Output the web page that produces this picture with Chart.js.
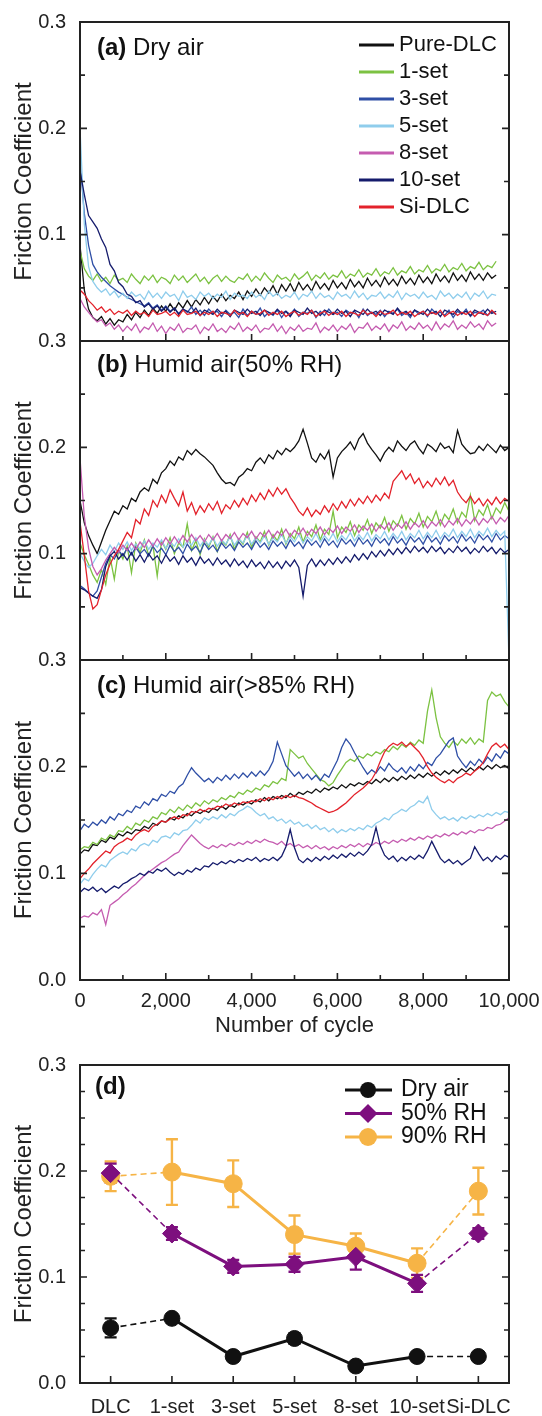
<!DOCTYPE html>
<html>
<head>
<meta charset="utf-8">
<script src="https://cdn.jsdelivr.net/npm/chart.js@4.4.1/dist/chart.umd.min.js"></script>
<style>
  body { margin: 0; background: #fff; }
  #wrap { position: relative; width: 542px; height: 1416px; overflow: hidden; background: #fff; }
  canvas { position: absolute; left: 0; }
</style>
</head>
<body>
<div id="wrap">
  <canvas id="ca" width="542" height="360" style="top:0px"></canvas>
  <canvas id="cb" width="542" height="360" style="top:322px"></canvas>
  <canvas id="cc" width="542" height="400" style="top:642px"></canvas>
  <canvas id="cd" width="542" height="376" style="top:1040px"></canvas>
</div>
<script>
// ---- data ----
const cycles = [0,100,200,300,400,500,600,700,800,900,1000,1100,1200,1300,1400,1500,1600,1700,1800,1900,
  2000,2100,2200,2300,2400,2500,2600,2700,2800,2900,3000,3100,3200,3300,3400,3500,3600,3700,3800,3900,
  4000,4100,4200,4300,4400,4500,4600,4700,4800,4900,5000,5100,5200,5300,5400,5500,5600,5700,5800,5900,
  6000,6100,6200,6300,6400,6500,6600,6700,6800,6900,7000,7100,7200,7300,7400,7500,7600,7700,7800,7900,
  8000,8100,8200,8300,8400,8500,8600,8700,8800,8900,9000,9100,9200,9300,9400,9500,9600,9700,9800,9900,10000];

const traceNames = ['Pure-DLC', '1-set', '3-set', '5-set', '8-set', '10-set', 'Si-DLC'];

// (a) dry air
const dryPure = [.090,.048,.030,.022,.019,.023,.016,.021,.015,.020,.018,.025,.020,.027,.022,.029,.024,.031,.026,.033,
  .028,.035,.029,.036,.031,.038,.032,.039,.034,.041,.035,.042,.037,.044,.038,.043,.040,.046,.039,.047,
  .042,.049,.043,.050,.045,.052,.044,.053,.047,.054,.046,.055,.048,.053,.047,.056,.049,.054,.048,.057,
  .050,.055,.049,.058,.051,.056,.050,.059,.052,.057,.051,.060,.053,.058,.052,.061,.054,.059,.053,.062,
  .055,.060,.054,.063,.056,.061,.055,.064,.057,.062,.056,.065,.058,.063,.057,.064,.059,.062];
const dry1 = [.085,.068,.061,.057,.063,.056,.060,.054,.062,.057,.059,.055,.063,.058,.054,.061,.057,.062,.055,.060,
  .058,.054,.062,.057,.061,.055,.059,.063,.056,.060,.054,.059,.062,.056,.061,.057,.055,.060,.058,.063,
  .056,.061,.057,.064,.059,.055,.062,.058,.060,.056,.063,.058,.061,.065,.057,.062,.059,.064,.058,.062,
  .060,.066,.059,.063,.061,.067,.060,.064,.062,.068,.061,.065,.063,.069,.062,.066,.064,.070,.063,.067,
  .065,.071,.064,.068,.066,.072,.065,.069,.067,.073,.066,.070,.068,.074,.067,.071,.069,.075];
const dry3 = [.170,.120,.090,.072,.065,.060,.056,.052,.049,.046,.044,.041,.039,.037,.035,.033,.036,.031,.034,.029,
  .033,.028,.031,.026,.030,.027,.032,.025,.029,.024,.030,.026,.028,.023,.029,.025,.027,.022,.030,.024,
  .028,.025,.031,.023,.027,.024,.029,.022,.028,.025,.030,.023,.027,.026,.029,.022,.028,.024,.030,.025,
  .027,.023,.029,.026,.028,.022,.030,.024,.027,.025,.029,.023,.028,.026,.030,.024,.027,.022,.029,.025,
  .028,.023,.030,.026,.027,.024,.029,.022,.028,.025,.030,.023,.027,.026,.029,.024,.028,.025];
const dry5 = [.200,.110,.070,.056,.050,.046,.049,.043,.047,.041,.045,.040,.046,.042,.044,.039,.047,.041,.045,.040,
  .046,.042,.044,.038,.047,.041,.043,.039,.046,.042,.045,.040,.044,.041,.047,.039,.045,.042,.043,.040,
  .046,.041,.044,.039,.047,.042,.045,.040,.043,.041,.046,.039,.044,.042,.047,.040,.045,.041,.043,.039,
  .046,.042,.044,.040,.047,.041,.045,.039,.043,.042,.046,.040,.044,.041,.047,.039,.045,.042,.044,.040,
  .046,.041,.043,.039,.047,.042,.045,.040,.044,.041,.046,.039,.045,.042,.047,.040,.044,.043];
const dry8 = [.040,.032,.027,.022,.018,.020,.014,.017,.011,.015,.009,.014,.010,.016,.008,.013,.011,.017,.009,.014,
  .007,.013,.010,.016,.008,.012,.011,.015,.007,.013,.010,.016,.009,.012,.008,.014,.011,.017,.009,.013,
  .010,.015,.008,.012,.011,.016,.009,.014,.007,.013,.010,.015,.009,.012,.011,.017,.008,.013,.010,.015,
  .009,.014,.011,.016,.008,.013,.012,.017,.010,.014,.011,.016,.009,.015,.012,.018,.010,.014,.011,.017,
  .012,.015,.010,.018,.011,.016,.013,.019,.011,.015,.012,.018,.013,.016,.011,.019,.014,.017];
const dry10 = [.160,.138,.118,.112,.106,.096,.088,.072,.066,.055,.051,.044,.042,.036,.038,.032,.035,.030,.033,.028,
  .032,.027,.031,.025,.030,.028,.026,.031,.024,.029,.027,.025,.030,.026,.028,.023,.029,.027,.025,.030,
  .026,.028,.024,.029,.027,.025,.030,.026,.028,.023,.029,.027,.025,.031,.026,.028,.024,.029,.027,.025,
  .030,.026,.028,.023,.029,.027,.025,.030,.026,.028,.024,.029,.027,.025,.031,.026,.028,.024,.029,.027,
  .025,.030,.026,.028,.023,.029,.027,.025,.030,.026,.028,.024,.029,.027,.025,.030,.026,.028];
const drySi = [.048,.044,.038,.034,.029,.032,.027,.030,.025,.028,.026,.029,.024,.028,.025,.027,.023,.029,.025,.026,
  .028,.024,.027,.023,.029,.025,.026,.028,.024,.027,.025,.028,.023,.027,.026,.024,.029,.025,.027,.023,
  .028,.025,.026,.029,.024,.027,.025,.028,.023,.026,.028,.024,.027,.025,.029,.023,.026,.028,.024,.027,
  .025,.028,.023,.027,.026,.024,.029,.025,.027,.023,.028,.025,.026,.029,.024,.027,.025,.028,.023,.026,
  .028,.024,.027,.025,.029,.023,.026,.028,.024,.027,.025,.028,.023,.027,.026,.024,.029,.025];

// (b) humid air 50% RH
const h50Pure = [.150,.129,.117,.108,.100,.111,.122,.131,.140,.137,.145,.142,.152,.149,.158,.162,.159,.170,.166,.176,
  .180,.187,.183,.191,.188,.197,.193,.198,.194,.191,.187,.183,.176,.170,.166,.167,.164,.172,.175,.180,
  .178,.186,.190,.185,.193,.189,.197,.193,.199,.196,.200,.206,.217,.204,.190,.186,.194,.189,.197,.172,
  .190,.196,.200,.205,.198,.208,.213,.204,.198,.193,.187,.195,.200,.196,.206,.201,.197,.203,.206,.199,
  .194,.203,.200,.196,.204,.199,.201,.195,.216,.203,.198,.194,.195,.201,.197,.203,.199,.195,.202,.197,.200];
const h50_1 = [.110,.099,.090,.080,.073,.085,.071,.097,.076,.103,.095,.107,.082,.110,.101,.113,.098,.108,.079,.112,
  .104,.115,.100,.110,.106,.128,.103,.112,.099,.114,.106,.116,.102,.112,.108,.118,.104,.114,.109,.120,
  .106,.116,.111,.121,.108,.118,.112,.123,.109,.119,.114,.125,.111,.121,.116,.127,.113,.123,.118,.140,
  .115,.125,.120,.130,.117,.127,.122,.132,.119,.129,.124,.134,.121,.131,.126,.136,.123,.133,.128,.138,
  .125,.135,.130,.140,.127,.137,.132,.142,.129,.139,.134,.155,.131,.141,.136,.146,.133,.143,.138,.148,.140];
const h50_3 = [.070,.067,.063,.060,.065,.078,.091,.099,.095,.103,.098,.105,.099,.106,.100,.104,.098,.107,.101,.105,
  .099,.108,.102,.106,.100,.109,.103,.107,.101,.110,.104,.108,.102,.110,.105,.109,.103,.111,.106,.110,
  .104,.112,.106,.110,.104,.112,.107,.111,.105,.113,.107,.111,.105,.113,.108,.112,.106,.114,.108,.112,
  .106,.114,.109,.113,.107,.115,.109,.113,.107,.115,.110,.114,.108,.116,.110,.114,.108,.116,.111,.115,
  .109,.117,.111,.115,.109,.117,.112,.116,.110,.118,.112,.116,.110,.118,.113,.117,.111,.119,.113,.117,.114];
const h50_5 = [.100,.093,.087,.091,.098,.104,.099,.108,.102,.110,.104,.111,.103,.109,.105,.112,.104,.110,.106,.113,
  .105,.111,.107,.114,.106,.112,.108,.115,.107,.113,.108,.115,.107,.113,.109,.116,.108,.114,.110,.117,
  .109,.115,.110,.117,.109,.115,.111,.118,.110,.116,.111,.118,.110,.116,.112,.119,.111,.117,.112,.119,
  .111,.117,.113,.120,.112,.118,.113,.120,.112,.118,.114,.121,.113,.119,.114,.121,.113,.119,.115,.122,
  .114,.120,.115,.122,.114,.120,.116,.123,.115,.121,.116,.123,.115,.121,.117,.124,.116,.122,.117,.121,.000];
const h50_8 = [.190,.135,.105,.088,.080,.086,.094,.100,.106,.101,.108,.103,.110,.104,.111,.106,.113,.107,.114,.108,
  .115,.109,.116,.110,.117,.111,.118,.112,.117,.111,.118,.113,.119,.112,.118,.114,.120,.113,.119,.115,
  .121,.114,.120,.116,.122,.115,.121,.117,.123,.116,.122,.118,.124,.117,.123,.119,.125,.118,.124,.120,
  .126,.119,.125,.121,.127,.120,.126,.122,.128,.121,.127,.123,.129,.122,.128,.124,.130,.123,.129,.125,
  .131,.124,.130,.126,.132,.125,.131,.127,.133,.126,.132,.128,.134,.127,.133,.129,.135,.128,.134,.130,.136];
const h50_10 = [.068,.066,.063,.060,.058,.066,.088,.098,.102,.095,.100,.094,.101,.093,.099,.092,.100,.094,.098,.091,
  .099,.093,.097,.090,.098,.092,.096,.089,.097,.091,.095,.089,.096,.090,.094,.088,.095,.089,.093,.087,
  .094,.088,.092,.086,.093,.087,.092,.086,.093,.088,.094,.087,.060,.089,.095,.088,.094,.089,.095,.090,
  .096,.091,.097,.092,.099,.094,.100,.095,.102,.097,.103,.098,.104,.099,.105,.100,.106,.101,.107,.102,
  .106,.101,.107,.102,.106,.100,.105,.101,.107,.102,.106,.100,.105,.101,.107,.102,.106,.100,.105,.101,.104];
const h50Si = [.130,.098,.065,.048,.052,.066,.080,.090,.098,.104,.112,.120,.115,.132,.128,.142,.136,.150,.144,.155,
  .148,.160,.152,.145,.158,.140,.148,.137,.145,.139,.147,.141,.149,.138,.146,.142,.150,.144,.152,.146,
  .155,.149,.157,.151,.160,.154,.162,.156,.161,.153,.147,.140,.136,.143,.135,.141,.137,.145,.139,.147,
  .141,.149,.143,.151,.145,.152,.147,.154,.148,.155,.150,.157,.152,.168,.173,.178,.170,.175,.166,.171,
  .162,.168,.163,.171,.165,.172,.164,.169,.158,.152,.148,.154,.147,.152,.145,.151,.146,.153,.147,.152,.149];

// (c) humid air >85% RH
const h85Pure = [.118,.122,.121,.127,.126,.131,.129,.134,.132,.137,.135,.139,.137,.141,.140,.144,.142,.147,.145,.149,
  .148,.152,.150,.154,.152,.156,.154,.158,.156,.159,.157,.161,.159,.163,.160,.164,.162,.166,.164,.167,
  .165,.169,.167,.171,.168,.172,.170,.173,.171,.175,.172,.176,.174,.177,.175,.179,.176,.180,.178,.181,
  .179,.183,.180,.184,.182,.185,.183,.186,.184,.188,.185,.189,.186,.190,.187,.191,.188,.192,.189,.193,
  .190,.194,.191,.195,.192,.196,.193,.197,.194,.198,.195,.199,.196,.200,.197,.201,.198,.202,.199,.201,.198];
const h85_1 = [.122,.125,.124,.129,.127,.133,.131,.136,.134,.140,.139,.144,.141,.147,.145,.150,.148,.153,.151,.157,
  .155,.160,.157,.162,.159,.164,.161,.166,.163,.168,.165,.169,.167,.171,.169,.173,.171,.176,.174,.178,
  .176,.180,.178,.183,.181,.186,.184,.189,.187,.216,.212,.208,.210,.203,.198,.193,.188,.186,.182,.185,
  .192,.198,.204,.207,.205,.210,.208,.212,.210,.214,.212,.216,.214,.219,.216,.221,.218,.223,.220,.225,
  .222,.252,.272,.246,.228,.222,.218,.224,.220,.226,.222,.227,.221,.226,.223,.262,.270,.266,.268,.261,.256];
const h85_3 = [.140,.146,.143,.148,.145,.150,.147,.153,.150,.156,.154,.159,.157,.163,.161,.167,.164,.170,.168,.174,
  .172,.177,.175,.181,.184,.192,.199,.194,.190,.186,.189,.185,.190,.187,.192,.188,.193,.189,.194,.190,
  .195,.191,.196,.192,.197,.205,.223,.212,.201,.196,.191,.195,.189,.193,.188,.192,.187,.193,.190,.198,
  .206,.218,.226,.221,.213,.206,.199,.193,.197,.194,.200,.196,.203,.198,.195,.199,.194,.200,.196,.202,
  .198,.204,.201,.208,.212,.218,.224,.227,.210,.204,.199,.205,.201,.207,.203,.209,.205,.212,.208,.215,.212];
const h85_5 = [.090,.095,.093,.099,.104,.108,.106,.112,.115,.118,.120,.118,.123,.121,.126,.128,.126,.131,.129,.134,
  .135,.133,.138,.136,.140,.141,.145,.150,.147,.152,.150,.153,.151,.155,.152,.156,.154,.158,.160,.163,
  .161,.157,.154,.156,.151,.153,.149,.151,.147,.150,.146,.148,.144,.146,.142,.145,.141,.143,.139,.142,
  .138,.141,.139,.142,.140,.143,.141,.145,.143,.147,.149,.152,.150,.155,.157,.160,.158,.162,.164,.168,
  .166,.172,.160,.155,.151,.153,.150,.152,.149,.153,.151,.154,.152,.155,.153,.156,.154,.157,.155,.158,.157];
const h85_8 = [.058,.060,.059,.063,.061,.066,.052,.070,.073,.076,.080,.083,.087,.090,.094,.098,.101,.104,.107,.110,
  .112,.115,.118,.120,.126,.131,.136,.132,.128,.125,.123,.126,.124,.127,.125,.128,.126,.129,.127,.130,
  .128,.131,.129,.132,.130,.129,.127,.130,.126,.128,.125,.127,.124,.126,.123,.126,.123,.125,.122,.125,
  .123,.126,.124,.127,.125,.128,.125,.128,.126,.129,.127,.130,.128,.131,.129,.132,.130,.133,.131,.134,
  .132,.135,.133,.136,.134,.137,.135,.138,.136,.139,.137,.140,.138,.141,.140,.143,.142,.145,.146,.149,.152];
const h85_10 = [.082,.086,.084,.087,.083,.086,.082,.085,.088,.086,.090,.092,.095,.097,.100,.098,.102,.100,.104,.102,
  .105,.101,.098,.101,.099,.103,.101,.105,.103,.107,.106,.110,.108,.111,.109,.112,.110,.113,.111,.114,
  .112,.115,.111,.114,.112,.115,.112,.116,.125,.141,.124,.113,.110,.114,.111,.115,.112,.116,.113,.117,
  .114,.118,.115,.119,.116,.120,.117,.121,.127,.143,.126,.117,.113,.116,.111,.115,.112,.116,.113,.117,
  .114,.121,.130,.122,.114,.110,.113,.109,.112,.108,.111,.114,.125,.118,.112,.115,.111,.116,.113,.117,.115];
const h85Si = [.095,.100,.104,.109,.113,.117,.121,.119,.125,.128,.130,.133,.131,.136,.139,.141,.139,.144,.146,.149,
  .148,.151,.153,.151,.155,.154,.158,.157,.160,.158,.161,.160,.163,.162,.165,.163,.166,.164,.167,.166,
  .168,.167,.170,.168,.171,.169,.172,.170,.173,.171,.173,.171,.170,.168,.166,.163,.161,.159,.157,.158,
  .160,.163,.166,.170,.174,.177,.180,.184,.188,.195,.205,.214,.219,.222,.220,.223,.219,.222,.218,.214,
  .208,.200,.194,.190,.187,.185,.188,.185,.189,.191,.194,.192,.196,.199,.204,.212,.219,.222,.218,.221,.216];

// (d) average friction coefficient
const dLabels = ['DLC', '1-set', '3-set', '5-set', '8-set', '10-set', 'Si-DLC'];
const dryAvg = [0.052, 0.061, 0.025, 0.042, 0.016, 0.025, 0.025];
const dryErr = [0.009, 0.004, 0.003, 0.005, 0.004, 0.002, 0.002];
const rh50Avg = [0.198, 0.141, 0.110, 0.112, 0.119, 0.094, 0.141];
const rh50Err = [0.009, 0.006, 0.006, 0.007, 0.012, 0.008, 0.005];
const rh90Avg = [0.195, 0.199, 0.188, 0.140, 0.129, 0.113, 0.181];
const rh90Err = [0.014, 0.031, 0.022, 0.018, 0.012, 0.014, 0.022];

// ---- style ----
const FONT = "'Liberation Sans', Arial, Helvetica, sans-serif";
const INK = '#222';
const traceColors = ['#111111', '#7cc242', '#2f4fa6', '#8fcdec', '#c55cb0', '#151b6c', '#e3222b'];

Chart.defaults.font.family = FONT;
Chart.defaults.color = INK;

// frame + inward ticks on all panels
const frameTicks = {
  id: 'frameTicks',
  afterDatasetsDraw(chart, args, o) {
    const { ctx, chartArea: a } = chart;
    const xs = chart.scales.x, ys = chart.scales.y;
    ctx.save();
    ctx.strokeStyle = INK;
    ctx.lineWidth = 1.6;
    ctx.beginPath();
    const n = Math.round(0.3 / o.yMinor);
    for (let i = 0; i <= n; i++) {
      const py = ys.getPixelForValue(i * o.yMinor);
      const len = i % o.perMajor === 0 ? 7 : 5;
      ctx.moveTo(a.left, py); ctx.lineTo(a.left + len, py);
      ctx.moveTo(a.right, py); ctx.lineTo(a.right - len, py);
    }
    if (o.category) {
      xs.ticks.forEach((t, i) => {
        const px = xs.getPixelForTick(i);
        ctx.moveTo(px, a.bottom); ctx.lineTo(px, a.bottom - 7);
      });
    } else {
      for (let v = 0; v <= 10000; v += 1000) {
        const px = xs.getPixelForValue(v);
        ctx.moveTo(px, a.bottom); ctx.lineTo(px, a.bottom - (v % 2000 === 0 ? 7 : 5));
      }
    }
    ctx.stroke();
    ctx.lineWidth = 2;
    ctx.strokeRect(a.left, a.top, a.right - a.left, a.bottom - a.top);
    ctx.restore();
  }
};

// "(a) Dry air" style tags
const panelTag = {
  id: 'panelTag',
  afterDraw(chart, args, o) {
    const ctx = chart.ctx;
    ctx.save();
    ctx.fillStyle = '#111';
    ctx.textAlign = 'left';
    ctx.textBaseline = 'middle';
    ctx.font = 'bold 24px ' + FONT;
    ctx.fillText(o.tag, o.x, o.y);
    const w = ctx.measureText(o.tag + ' ').width;
    ctx.font = '24px ' + FONT;
    if (o.text) ctx.fillText(o.text, o.x + w, o.y);
    ctx.restore();
  }
};

// legend of panel (a)
const traceLegend = {
  id: 'traceLegend',
  afterDraw(chart, args, o) {
    if (!o.show) return;
    const ctx = chart.ctx;
    ctx.save();
    ctx.font = '22px ' + FONT;
    ctx.textBaseline = 'middle';
    ctx.fillStyle = '#111';
    chart.data.datasets.forEach((ds, i) => {
      const y = 45 + i * 27;
      ctx.strokeStyle = ds.borderColor;
      ctx.lineWidth = 3;
      ctx.beginPath(); ctx.moveTo(359, y); ctx.lineTo(394, y); ctx.stroke();
      ctx.fillText(ds.label, 399, y);
    });
    ctx.restore();
  }
};

// keep the plot frame fixed even when end labels stick out
const noEdgePad = s => { s.paddingLeft = 0; s.paddingRight = 0; };

function tracePanel(id, sets, cfg) {
  return new Chart(document.getElementById(id), {
    type: 'line',
    data: {
      datasets: sets.map((vals, k) => ({
        label: traceNames[k],
        data: vals.map((v, i) => ({ x: cycles[i], y: v })),
        borderColor: traceColors[k],
        borderWidth: 1.3,
        pointRadius: 0,
        fill: false,
        order: sets.length - 1 - k
      }))
    },
    options: {
      responsive: false,
      animation: false,
      devicePixelRatio: 1,
      layout: { padding: { left: 6, right: 33, top: cfg.top, bottom: cfg.bottom } },
      plugins: {
        legend: { display: false },
        tooltip: { enabled: false },
        frameTicks: { yMinor: 0.05, perMajor: 2 },
        panelTag: { tag: cfg.tag, text: cfg.text, x: 97, y: cfg.tagY },
        traceLegend: { show: !!cfg.legend }
      },
      scales: {
        x: {
          type: 'linear', min: 0, max: 10000,
          display: !!cfg.xAxis,
          grid: { display: false }, border: { display: false },
          ticks: { stepSize: 2000, padding: 1, maxRotation: 0, font: { size: 20 }, color: INK,
                   callback: v => v.toLocaleString('en-US') },
          title: { display: true, text: 'Number of cycle', font: { size: 22 }, color: INK, padding: { top: 0, bottom: 3 } },
          afterFit: s => { s.height = cfg.xHeight || 0; noEdgePad(s); }
        },
        y: {
          min: 0, max: 0.3,
          grid: { display: false }, border: { display: false },
          ticks: { stepSize: 0.1, padding: 6, font: { size: 20 }, color: INK,
                   callback: v => (Math.abs(v) < 1e-9 && !cfg.zero) ? '' : v.toFixed(1) },
          title: { display: true, text: 'Friction Coefficient', font: { size: 24 }, color: INK, padding: { top: 4, bottom: 4 } },
          afterFit: s => { s.width = 74; }
        }
      }
    },
    plugins: [frameTicks, panelTag, traceLegend]
  });
}

tracePanel('ca', [dryPure, dry1, dry3, dry5, dry8, dry10, drySi],
  { top: 22, bottom: 19, tag: '(a)', text: 'Dry air', tagY: 48, legend: true });
tracePanel('cb', [h50Pure, h50_1, h50_3, h50_5, h50_8, h50_10, h50Si],
  { top: 19, bottom: 22, tag: '(b)', text: 'Humid air(50% RH)', tagY: 43 });
tracePanel('cc', [h85Pure, h85_1, h85_3, h85_5, h85_8, h85_10, h85Si],
  { top: 18, bottom: 0, tag: '(c)', text: 'Humid air(>85% RH)', tagY: 44, xAxis: true, xHeight: 62, zero: true });

// ---- panel (d) ----
const errorBars = {
  id: 'errorBars',
  beforeDatasetsDraw(chart) {
    const { ctx } = chart;
    const xs = chart.scales.x, ys = chart.scales.y;
    const list = chart.data.datasets.slice().reverse();
    ctx.save();
    list.forEach(ds => {
      ctx.strokeStyle = ds.borderColor;
      ctx.lineWidth = 2.4;
      ctx.beginPath();
      ds.data.forEach((v, i) => {
        const px = xs.getPixelForValue(i);
        const t = ys.getPixelForValue(v + ds.err[i]);
        const b = ys.getPixelForValue(v - ds.err[i]);
        ctx.moveTo(px, t); ctx.lineTo(px, b);
        ctx.moveTo(px - 6, t); ctx.lineTo(px + 6, t);
        ctx.moveTo(px - 6, b); ctx.lineTo(px + 6, b);
      });
      ctx.stroke();
    });
    ctx.restore();
  }
};

const avgLegend = {
  id: 'avgLegend',
  afterDraw(chart) {
    const ctx = chart.ctx;
    ctx.save();
    ctx.font = '23px ' + FONT;
    ctx.textBaseline = 'middle';
    chart.data.datasets.forEach((ds, i) => {
      const y = 50 + i * 23.5;
      ctx.strokeStyle = ds.borderColor;
      ctx.fillStyle = ds.borderColor;
      ctx.lineWidth = 3;
      ctx.beginPath(); ctx.moveTo(345, y); ctx.lineTo(392, y); ctx.stroke();
      const r = ds.pointRadius;
      ctx.beginPath();
      if (ds.pointStyle === 'rectRot') {
        ctx.moveTo(368 - r, y); ctx.lineTo(368, y - r); ctx.lineTo(368 + r, y); ctx.lineTo(368, y + r);
        ctx.closePath();
      } else {
        ctx.arc(368, y, r, 0, Math.PI * 2);
      }
      ctx.fill();
      ctx.fillStyle = '#111';
      ctx.fillText(ds.label, 401, y);
    });
    ctx.restore();
  }
};

const dashedEnd = c => c.p0DataIndex === 0 || c.p1DataIndex === dLabels.length - 1;

function avgSet(label, data, err, color, style, radius) {
  return {
    label, data, err,
    borderColor: color,
    backgroundColor: color,
    pointBackgroundColor: color,
    pointBorderColor: color,
    pointBorderWidth: 1,
    pointStyle: style,
    pointRadius: radius,
    borderWidth: 3,
    segment: {
      borderDash: c => dashedEnd(c) ? [6, 4] : [],
      borderWidth: c => dashedEnd(c) ? 1.6 : 3
    }
  };
}

new Chart(document.getElementById('cd'), {
  type: 'line',
  data: {
    labels: dLabels,
    datasets: [
      avgSet('Dry air', dryAvg, dryErr, '#111111', 'circle', 8),
      avgSet('50% RH', rh50Avg, rh50Err, '#7d0f7e', 'rectRot', 9.5),
      avgSet('90% RH', rh90Avg, rh90Err, '#f6b446', 'circle', 9)
    ]
  },
  options: {
    responsive: false,
    animation: false,
    devicePixelRatio: 1,
    layout: { padding: { left: 6, right: 33, top: 25, bottom: 3 } },
    plugins: {
      legend: { display: false },
      tooltip: { enabled: false },
      frameTicks: { yMinor: 0.025, perMajor: 4, category: true },
      panelTag: { tag: '(d)', text: '', x: 95, y: 47 }
    },
    scales: {
      x: {
        type: 'category', offset: true,
        grid: { display: false }, border: { display: false },
        ticks: { padding: 4, font: { size: 20 }, color: INK, maxRotation: 0, autoSkip: false },
        afterFit: s => { s.height = 30; noEdgePad(s); }
      },
      y: {
        min: 0, max: 0.3,
        grid: { display: false }, border: { display: false },
        ticks: { stepSize: 0.1, padding: 6, font: { size: 20 }, color: INK, callback: v => v.toFixed(1) },
        title: { display: true, text: 'Friction Coefficient', font: { size: 24 }, color: INK, padding: { top: 4, bottom: 4 } },
        afterFit: s => { s.width = 74; }
      }
    }
  },
  plugins: [errorBars, frameTicks, panelTag, avgLegend]
});
</script>
</body>
</html>
